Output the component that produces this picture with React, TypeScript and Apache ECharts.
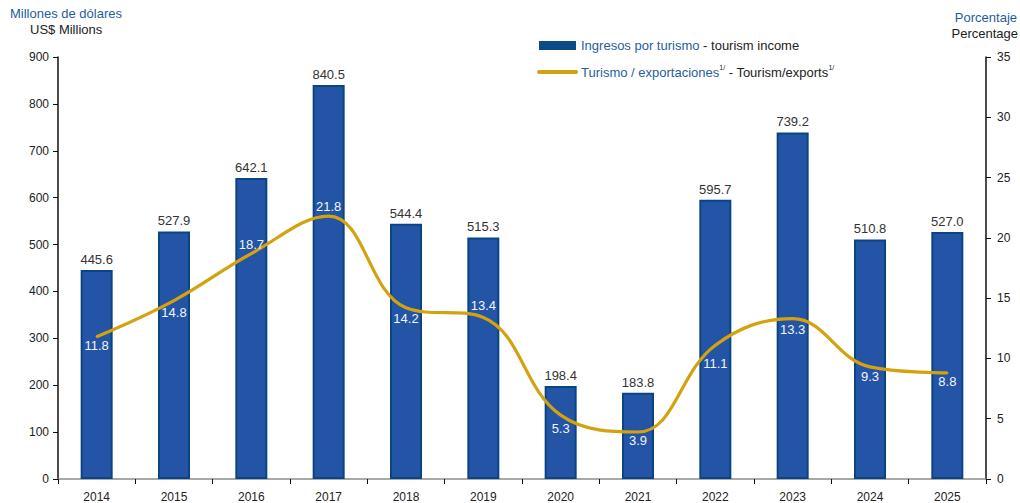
import React, { useEffect, useRef } from "react";
import * as echarts from "echarts";

const years = ["2014", "2015", "2016", "2017", "2018", "2019", "2020", "2021", "2022", "2023", "2024", "2025"];
const tourismIncome = [445.6, 527.9, 642.1, 840.5, 544.4, 515.3, 198.4, 183.8, 595.7, 739.2, 510.8, 527.0];
const tourismExports = [11.8, 14.8, 18.7, 21.8, 14.2, 13.4, 5.3, 3.9, 11.1, 13.3, 9.3, 8.8];

const barName = "Ingresos por turismo - tourism income";
const lineName = "Turismo / exportaciones - Tourism/exports";

// vertical label offsets (px) relative to each line point
const lineLabelDy = [9, 12, -9, -10, 11, -12, 13, 9, 18, 11, 10, 9];

const FONT = "Liberation Sans, Arial, sans-serif";
const BLUE_TXT = "#1F5E9C";
const DARK_TXT = "#222222";

export default function App() {
  const ref = useRef<HTMLDivElement>(null);
  useEffect(() => {
    if (!ref.current) return;
    const chart = echarts.init(ref.current, null, { renderer: "svg" });
    chart.setOption({
      animation: false,
      backgroundColor: "#ffffff",
      textStyle: { fontFamily: FONT },
      grid: { left: 58, right: 34, top: 57, bottom: 24, containLabel: false },
      legend: {
        orient: "vertical",
        left: 537,
        top: 39,
        padding: 0,
        itemWidth: 37,
        itemHeight: 9,
        itemGap: 12,
        selectedMode: false,
        data: [
          { name: barName, icon: "rect", itemStyle: { color: "#0E4A86", borderWidth: 0 } },
          { name: lineName, itemStyle: { opacity: 0 }, lineStyle: { width: 4, cap: "round", color: "#D4A20F" } },
        ],
        formatter: (n: string) =>
          n === barName
            ? "{b|Ingresos por turismo}{d| - tourism income}"
            : "{b|Turismo / exportaciones}{s|1/}{d| - Tourism/exports}{s|1/}",
        textStyle: {
          fontFamily: FONT,
          rich: {
            b: { color: BLUE_TXT, fontSize: 13, fontFamily: FONT, lineHeight: 16 },
            d: { color: DARK_TXT, fontSize: 13, fontFamily: FONT, lineHeight: 16 },
            s: { color: DARK_TXT, fontSize: 7, fontFamily: FONT, verticalAlign: "top", lineHeight: 16 },
          },
        },
      },
      graphic: [
        { type: "text", left: 10, top: 7, style: { text: "Millones de dólares", fill: BLUE_TXT, font: `13px ${FONT}` } },
        { type: "text", left: 30, top: 23, style: { text: "US$ Millions", fill: DARK_TXT, font: `13px ${FONT}` } },
        { type: "text", right: 3, top: 11, style: { text: "Porcentaje", fill: BLUE_TXT, font: `13px ${FONT}` } },
        { type: "text", right: 2, top: 27, style: { text: "Percentage", fill: DARK_TXT, font: `13px ${FONT}` } },
      ],
      xAxis: {
        type: "category",
        data: years,
        axisLine: { lineStyle: { color: "#8C8C8C", width: 1.5 } },
        axisTick: { show: true, length: 5, lineStyle: { color: "#111", width: 1 } },
        axisLabel: { color: DARK_TXT, fontSize: 12, fontFamily: FONT, margin: 12 },
      },
      yAxis: [
        {
          type: "value",
          min: 0,
          max: 900,
          interval: 100,
          splitLine: { show: false },
          axisLine: { show: true, lineStyle: { color: "#111", width: 1.5 } },
          axisTick: { show: true, length: 5, lineStyle: { color: "#111" } },
          axisLabel: { color: DARK_TXT, fontSize: 12, fontFamily: FONT, margin: 9 },
        },
        {
          type: "value",
          min: 0,
          max: 35,
          interval: 5,
          position: "right",
          splitLine: { show: false },
          axisLine: { show: true, lineStyle: { color: "#111", width: 1.5 } },
          axisTick: { show: true, length: 5, lineStyle: { color: "#111" } },
          axisLabel: { color: DARK_TXT, fontSize: 12, fontFamily: FONT, margin: 11 },
        },
      ],
      series: [
        {
          name: barName,
          type: "bar",
          data: tourismIncome,
          barWidth: 32,
          itemStyle: { color: "#2354A5", borderColor: "#0A4582", borderWidth: 2 },
          label: {
            show: true,
            position: "top",
            distance: 4,
            color: "#333",
            fontSize: 13,
            fontFamily: FONT,
            formatter: (p: any) => Number(p.value).toFixed(1),
          },
        },
        {
          name: lineName,
          type: "line",
          yAxisIndex: 1,
          smooth: 0.4,
          symbol: "circle",
          symbolSize: 2,
          itemStyle: { color: "#D4A20F" },
          lineStyle: { color: "#D4A20F", width: 3.2 },
          data: tourismExports.map((v, i) => ({
            value: v,
            label: { offset: [0, lineLabelDy[i]] },
          })),
          label: {
            show: true,
            position: "inside",
            color: "#F2F5FA",
            fontSize: 13,
            fontFamily: FONT,
            formatter: (p: any) => Number(p.value).toFixed(1),
          },
          z: 3,
        },
      ],
    });
    return () => chart.dispose();
  }, []);
  return <div ref={ref} style={{ width: 1020, height: 503, position: "absolute", left: 0, top: 0 }} />;
}
